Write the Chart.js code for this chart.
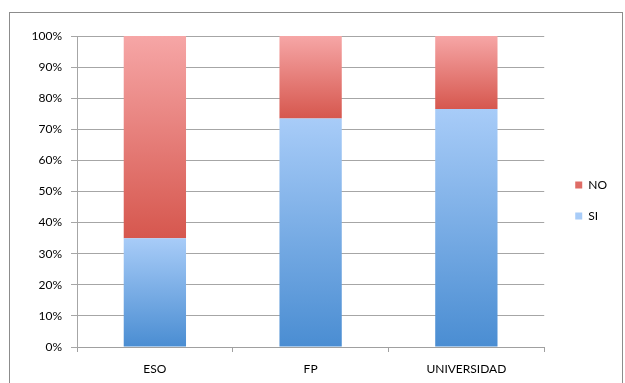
<!DOCTYPE html>
<html>
<head>
  <meta charset="utf-8">
  <title>SI / NO por nivel</title>
  <script src="https://cdn.jsdelivr.net/npm/chart.js@4/dist/chart.umd.min.js"></script>
  <style>
    html, body { margin: 0; padding: 0; background: #fff; }
    #wrap { width: 625px; height: 383px; position: relative; }
  </style>
</head>
<body>
  <div id="wrap"><canvas id="myChart"></canvas></div>
  <script>
    const categories = ['ESO', 'FP', 'UNIVERSIDAD'];
    const siValues = [35, 73.5, 76.5];
    const noValues = [65, 26.5, 23.5];

    // gradient per segment: light at the top, darker at the bottom
    function segGradient(context, top, bottom, light, dark, flat) {
      const chart = context.chart;
      const i = context.dataIndex;
      if (i == null) return flat; // legend swatch
      if (!chart.chartArea || !chart.scales.y) return dark;
      const y = chart.scales.y;
      const t = y.getPixelForValue(top(i));
      const b = y.getPixelForValue(bottom(i));
      if (!Number.isFinite(t) || !Number.isFinite(b) || t === b) return dark;
      const g = chart.ctx.createLinearGradient(0, t, 0, b);
      g.addColorStop(0, light);
      g.addColorStop(1, dark);
      return g;
    }

    const frame = {
      id: 'frame',
      beforeDraw(chart) {
        const c = chart.ctx;
        c.save();
        c.strokeStyle = '#8c8c8c';
        c.lineWidth = 1;
        c.strokeRect(9.5, 12.5, 613, 380);
        c.restore();
      }
    };

    Chart.defaults.font.family = 'Lato, "Open Sans", sans-serif';
    Chart.defaults.font.size = 12;
    Chart.defaults.color = '#000';

    new Chart(document.getElementById('myChart'), {
      type: 'bar',
      data: {
        labels: categories,
        datasets: [
          {
            label: 'SI',
            data: siValues,
            backgroundColor: (ctx) => segGradient(ctx, i => siValues[i], () => 0, '#a8ccf8', '#4a8dd2', '#80b0ec'),
            borderWidth: 0,
            barPercentage: 0.4,
            categoryPercentage: 1.0
          },
          {
            label: 'NO',
            data: noValues,
            backgroundColor: (ctx) => segGradient(ctx, i => siValues[i] + noValues[i], i => siValues[i], '#f6a6a6', '#d6574e', '#e46c6c'),
            borderWidth: 0,
            barPercentage: 0.4,
            categoryPercentage: 1.0
          }
        ]
      },
      options: {
        responsive: true,
        maintainAspectRatio: false,
        animation: false,
        layout: { padding: { top: 18, left: 0, right: 8, bottom: 0 } },
        scales: {
          x: {
            stacked: true,
            grid: { offset: true, drawOnChartArea: false, tickLength: 5, color: '#a0a0a0' },
            border: { color: '#a0a0a0' },
            ticks: { padding: 10 },
            afterFit: (s) => { s.height = 36; }
          },
          // empty spacer axes, they only reserve room round the plot
          xTop: {
            type: 'category',
            position: 'top',
            grid: { display: false },
            border: { display: false },
            ticks: { display: false },
            afterFit: (s) => { s.height = 18; }
          },
          y: {
            stacked: true,
            min: 0, max: 100,
            ticks: { stepSize: 10, padding: 9, callback: v => v + '%' },
            grid: { color: '#a6a6a6', tickLength: 6 },
            border: { color: '#a6a6a6' },
            afterFit: (s) => { s.width = 77; }
          },
          yRight: {
            type: 'linear',
            position: 'right',
            grid: { display: false },
            border: { display: false },
            ticks: { display: false },
            afterFit: (s) => { s.width = 12; }
          }
        },
        plugins: {
          legend: {
            position: 'right',
            reverse: true,
            labels: { boxWidth: 7, boxHeight: 7, padding: 19, font: { size: 12 } }
          },
          tooltip: { enabled: false }
        }
      },
      plugins: [frame]
    });
  </script>
</body>
</html>
